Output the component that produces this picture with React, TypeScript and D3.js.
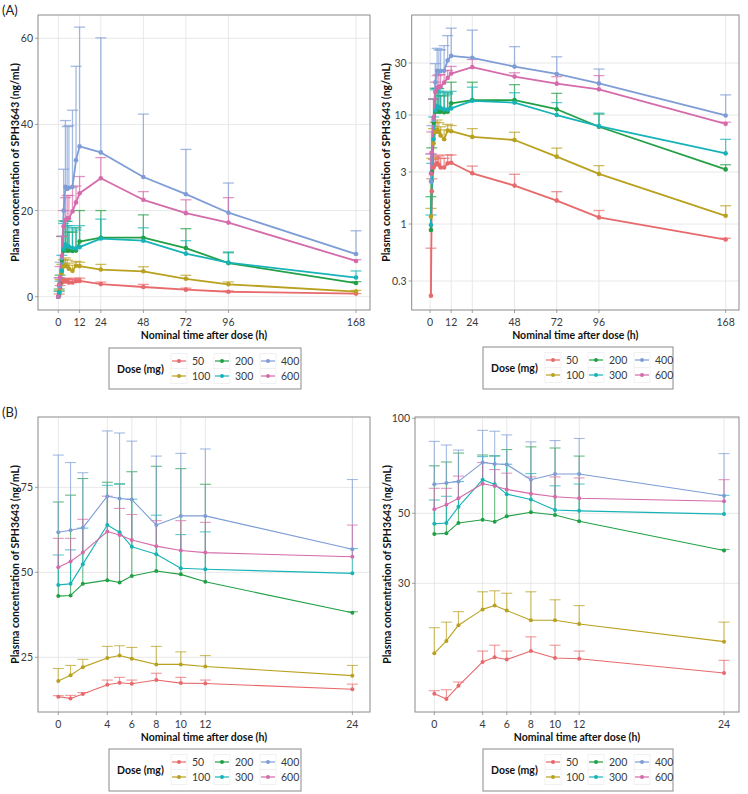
import React from "react";
import * as d3 from "d3";

const DOSES = ["50", "100", "200", "300", "400", "600"];
const COLORS = ["#E8696B", "#B9A11F", "#22A046", "#17B3B8", "#7E9DD6", "#D56BAA"];

// Panel A: single dose, 0-168 h
const TIMES_A = [0, 0.5, 1, 2, 3, 4, 5, 6, 8, 10, 12, 24, 48, 72, 96, 168];
const A_MEAN_50 = [0, 0.22, 2.0, 3.3, 3.5, 3.6, 3.5, 3.3, 3.3, 3.6, 3.65, 2.92, 2.25, 1.64, 1.15, 0.72];
const A_UP_50 = [0, 0.6, 2.6, 3.9, 4.1, 4.3, 4.2, 4.0, 4.0, 4.3, 4.3, 3.4, 2.86, 1.98, 1.33, 0.74];
const A_MEAN_100 = [0, 1.17, 2.9, 5.5, 7.0, 7.3, 7.0, 6.5, 6.0, 7.2, 7.1, 6.3, 5.9, 4.15, 2.88, 1.19];
const A_UP_100 = [0, 1.39, 4.0, 7.5, 8.6, 9.0, 8.5, 7.8, 7.3, 8.2, 8.0, 7.5, 6.95, 4.97, 3.43, 1.47];
const A_MEAN_200 = [0, 0.88, 3.0, 8.5, 10.7, 10.8, 10.7, 10.7, 10.6, 10.7, 12.8, 13.7, 13.7, 11.3, 7.8, 3.17];
const A_UP_200 = [0, 1.78, 5.0, 14.0, 17.6, 17.5, 17.5, 15.0, 15.0, 16.0, 20.0, 20.0, 19.0, 15.8, 10.2, 3.5];
const A_MEAN_300 = [0, 0.98, 2.5, 6.0, 11.0, 12.1, 11.8, 11.6, 11.3, 11.2, 11.5, 13.5, 13.0, 10.0, 7.9, 4.45];
const A_UP_300 = [0, 1.21, 3.6, 9.6, 17.0, 17.5, 16.5, 16.5, 16.0, 15.5, 16.5, 18.0, 16.0, 13.0, 10.4, 5.98];
const A_MEAN_400 = [0, 2.45, 4.5, 9.0, 20.0, 25.5, 25.0, 25.3, 25.5, 31.7, 34.9, 33.5, 27.8, 23.8, 19.5, 9.9];
const A_UP_400 = [0, 4.4, 8.0, 14.0, 29.6, 40.9, 39.5, 39.7, 43.3, 53.5, 62.6, 60.1, 42.4, 34.2, 26.4, 15.3];
const A_MEAN_600 = [0, 2.9, 4.5, 9.5, 16.3, 17.8, 18.2, 18.2, 19.8, 21.9, 24.0, 27.5, 22.5, 19.4, 17.2, 8.3];
const A_UP_600 = [0, 4.4, 7.0, 14.0, 20.0, 23.0, 23.5, 23.5, 25.5, 25.7, 27.9, 32.3, 24.4, 22.5, 23.0, 8.6];

// Panel B: multiple dose, 0-24 h
const TIMES_B = [0, 1, 2, 4, 5, 6, 8, 10, 12, 24];
const B_MEAN_50 = [13.4, 12.9, 14.2, 16.9, 17.5, 17.2, 18.3, 17.4, 17.3, 15.6];
const B_UP_50 = [13.7, 13.8, 14.6, 18.3, 19.1, 18.3, 20.3, 19.1, 18.3, 17.1];
const B_MEAN_100 = [18.0, 19.7, 22.1, 24.8, 25.5, 24.6, 22.9, 22.9, 22.3, 19.6];
const B_UP_100 = [21.7, 22.6, 24.4, 28.2, 28.4, 27.9, 28.2, 26.6, 25.5, 22.6];
const B_MEAN_200 = [43.0, 43.2, 46.6, 47.7, 47.0, 48.9, 50.4, 49.4, 47.2, 38.1];
const B_UP_200 = [70.7, 72.7, 77.6, 76.5, 76.0, 79.6, 81.2, 80.5, 75.9, 38.4];
const B_MEAN_300 = [46.3, 46.6, 52.4, 63.9, 61.8, 57.5, 55.3, 51.2, 50.9, 49.7];
const B_UP_300 = [55.1, 56.6, 63.0, 75.6, 76.0, 71.5, 66.8, 61.1, 61.9, 57.0];
const B_MEAN_400 = [61.8, 62.4, 63.1, 72.4, 71.7, 71.4, 63.9, 66.6, 66.6, 56.8];
const B_UP_400 = [84.5, 82.3, 79.3, 91.6, 91.0, 88.6, 84.2, 85.0, 86.3, 77.3];
const B_MEAN_600 = [51.5, 53.2, 55.8, 62.0, 61.0, 59.5, 57.7, 56.4, 55.8, 54.6];
const B_UP_600 = [60.0, 60.0, 65.6, 72.4, 68.8, 67.0, 65.2, 65.2, 64.7, 63.9];

const A_MEANS = [A_MEAN_50, A_MEAN_100, A_MEAN_200, A_MEAN_300, A_MEAN_400, A_MEAN_600];
const A_UPS = [A_UP_50, A_UP_100, A_UP_200, A_UP_300, A_UP_400, A_UP_600];
const B_MEANS = [B_MEAN_50, B_MEAN_100, B_MEAN_200, B_MEAN_300, B_MEAN_400, B_MEAN_600];
const B_UPS = [B_UP_50, B_UP_100, B_UP_200, B_UP_300, B_UP_400, B_UP_600];

const X_TICKS_A = [0, 12, 24, 48, 72, 96, 168];
const X_TICKS_B = [0, 4, 6, 8, 10, 12, 24];
const Y_TICKS_A_LIN = [0, 20, 40, 60];
const Y_TICKS_A_LOG = [0.3, 1, 3, 10, 30];
const Y_TICKS_B_LIN = [25, 50, 75];
const Y_TICKS_B_LOG = [30, 50, 100];

const FONT = "Lato, 'Noto Sans', sans-serif";
const Y_TITLE = "Plasma concentration of SPH3643 (ng/mL)";
const X_TITLE = "Nominal time after dose (h)";

type PanelProps = {
  x0: number; x1: number; y0: number; y1: number;
  xDomain: [number, number]; yDomain: [number, number];
  log: boolean; xTicks: number[]; yTicks: number[];
  times: number[]; means: number[][]; ups: number[][];
  lw: number; r: number; ebw: number; yTitleX: number;
};

function Panel(p: PanelProps) {
  const x = d3.scaleLinear().domain(p.xDomain).range([p.x0, p.x1]);
  const y = (p.log ? d3.scaleLog() : d3.scaleLinear()).domain(p.yDomain).range([p.y1, p.y0]);
  const fmt = (v: number) => (p.log ? String(v) : d3.format("d")(v));
  const cap = 5.5;
  return (
    <g>
      <rect x={p.x0} y={p.y0} width={p.x1 - p.x0} height={p.y1 - p.y0} fill="#fff" />
      {p.xTicks.map((t) => (
        <line key={"gx" + t} x1={x(t)} x2={x(t)} y1={p.y0} y2={p.y1} stroke="#e2e2e2" strokeWidth={0.8} />
      ))}
      {p.yTicks.map((t) => (
        <line key={"gy" + t} x1={p.x0} x2={p.x1} y1={y(t)} y2={y(t)} stroke="#e2e2e2" strokeWidth={0.8} />
      ))}
      {/* error bars */}
      {p.means.map((ms, gi) => (
        <g key={"eb" + gi} stroke={COLORS[gi]} strokeWidth={p.ebw} strokeOpacity={0.7} fill="none">
          {ms.map((m, i) => {
            const u = p.ups[gi][i];
            if (p.log && m <= 0) return null;
            if (u <= m) return null;
            const cx = x(p.times[i]);
            return (
              <g key={i}>
                <line x1={cx} x2={cx} y1={y(m)} y2={y(u)} />
                <line x1={cx - cap} x2={cx + cap} y1={y(u)} y2={y(u)} />
              </g>
            );
          })}
        </g>
      ))}
      {/* lines */}
      {p.means.map((ms, gi) => {
        const pts = ms.map((m, i) => [p.times[i], m] as [number, number]).filter((d) => !p.log || d[1] > 0);
        const line = d3.line<[number, number]>().x((d) => x(d[0])).y((d) => y(d[1]));
        return <path key={"ln" + gi} d={line(pts) || ""} fill="none" stroke={COLORS[gi]} strokeWidth={p.lw} strokeLinejoin="round" />;
      })}
      {/* points */}
      {p.means.map((ms, gi) => (
        <g key={"pt" + gi} fill={COLORS[gi]}>
          {ms.map((m, i) => (p.log && m <= 0 ? null : <circle key={i} cx={x(p.times[i])} cy={y(m)} r={p.r} />))}
        </g>
      ))}
      <rect x={p.x0} y={p.y0} width={p.x1 - p.x0} height={p.y1 - p.y0} fill="none" stroke="#8a8a8a" strokeWidth={1} />
      {/* x ticks */}
      {p.xTicks.map((t) => (
        <g key={"xt" + t}>
          <line x1={x(t)} x2={x(t)} y1={p.y1} y2={p.y1 + 3} stroke="#8a8a8a" strokeWidth={0.8} />
          <text x={x(t)} y={p.y1 + 12} textAnchor="middle" dominantBaseline="central" fontSize={10.5} fill="#3a3a3a" fontFamily={FONT}>{t}</text>
        </g>
      ))}
      {p.yTicks.map((t) => (
        <g key={"yt" + t}>
          <line x1={p.x0 - 3} x2={p.x0} y1={y(t)} y2={y(t)} stroke="#8a8a8a" strokeWidth={0.8} />
          <text x={p.x0 - 5} y={y(t)} textAnchor="end" dominantBaseline="central" fontSize={10.5} fill="#3a3a3a" fontFamily={FONT}>{fmt(t)}</text>
        </g>
      ))}
      <text x={(p.x0 + p.x1) / 2} y={p.y1 + 25} textAnchor="middle" dominantBaseline="central" fontSize={10.5} fontWeight="bold" fill="#111" fontFamily={FONT}>{X_TITLE}</text>
      <text transform={`translate(${p.yTitleX},${(p.y0 + p.y1) / 2}) rotate(-90)`} textAnchor="middle" dominantBaseline="central" fontSize={10.5} fontWeight="bold" fill="#111" fontFamily={FONT}>{Y_TITLE}</text>
    </g>
  );
}

function Legend({ bx, by, w, h }: { bx: number; by: number; w: number; h: number }) {
  const cols = [70, 113, 159];
  const rows = [13, 28];
  return (
    <g fontFamily={FONT}>
      <rect x={bx} y={by} width={w} height={h} fill="#fff" stroke="#8a8a8a" strokeWidth={1} />
      <text x={bx + 8} y={by + h / 2} dominantBaseline="central" fontSize={10.5} fontWeight="bold" fill="#111">Dose (mg)</text>
      {DOSES.map((d, i) => {
        const c = Math.floor(i / 2);
        const rr = i % 2;
        const cx = bx + cols[c];
        const cy = by + rows[rr];
        return (
          <g key={d}>
            <rect x={cx - 8} y={cy - 7.5} width={16} height={15} fill="#fff" stroke="#eeeeee" strokeWidth={0.8} />
            <line x1={cx - 7} x2={cx + 7} y1={cy} y2={cy} stroke={COLORS[i]} strokeWidth={1.2} />
            <circle cx={cx} cy={cy} r={2} fill={COLORS[i]} />
            <text x={cx + 13} y={cy} dominantBaseline="central" fontSize={10.5} fill="#3a3a3a">{d}</text>
          </g>
        );
      })}
    </g>
  );
}

export default function App() {
  return (
    <svg width={748} height={794} style={{ position: "absolute", left: 0, top: 0, background: "#fff" }}>
      <rect width={748} height={794} fill="#fff" />
      <text x={2} y={10} dominantBaseline="central" fontSize={13} fill="#222" fontFamily={FONT}>(A)</text>
      <text x={2} y={412} dominantBaseline="central" fontSize={13} fill="#222" fontFamily={FONT}>(B)</text>

      <Panel x0={38} x1={370} y0={15} y1={310} xDomain={[-11.46, 175.9]} yDomain={[-3.09, 65.41]} log={false}
        xTicks={X_TICKS_A} yTicks={Y_TICKS_A_LIN} times={TIMES_A} means={A_MEANS} ups={A_UPS} lw={1.8} r={2.3} ebw={1.3} yTitleX={15} />
      <Panel x0={411.7} x1={739} y0={15} y1={310} xDomain={[-10.44, 175.6]} yDomain={[0.1626, 82.7]} log={true}
        xTicks={X_TICKS_A} yTicks={Y_TICKS_A_LOG} times={TIMES_A} means={A_MEANS} ups={A_UPS} lw={1.8} r={2.3} ebw={1.3} yTitleX={386} />
      <Legend bx={109} by={348} w={192} h={41} />
      <Legend bx={483} by={347} w={190} h={42} />

      <Panel x0={38} x1={370} y0={417} y1={712} xDomain={[-1.657, 25.44]} yDomain={[8.9, 95.7]} log={false}
        xTicks={X_TICKS_B} yTicks={Y_TICKS_B_LIN} times={TIMES_B} means={B_MEANS} ups={B_UPS} lw={1.1} r={2} ebw={1.1} yTitleX={15} />
      <Panel x0={415} x1={739} y0={417} y1={712} xDomain={[-1.6, 25.24]} yDomain={[11.73, 100.95]} log={true}
        xTicks={X_TICKS_B} yTicks={Y_TICKS_B_LOG} times={TIMES_B} means={B_MEANS} ups={B_UPS} lw={1.1} r={2} ebw={1.1} yTitleX={387} />
      <Legend bx={109} by={749} w={192} h={42} />
      <Legend bx={483} by={749} w={190} h={42} />
    </svg>
  );
}
